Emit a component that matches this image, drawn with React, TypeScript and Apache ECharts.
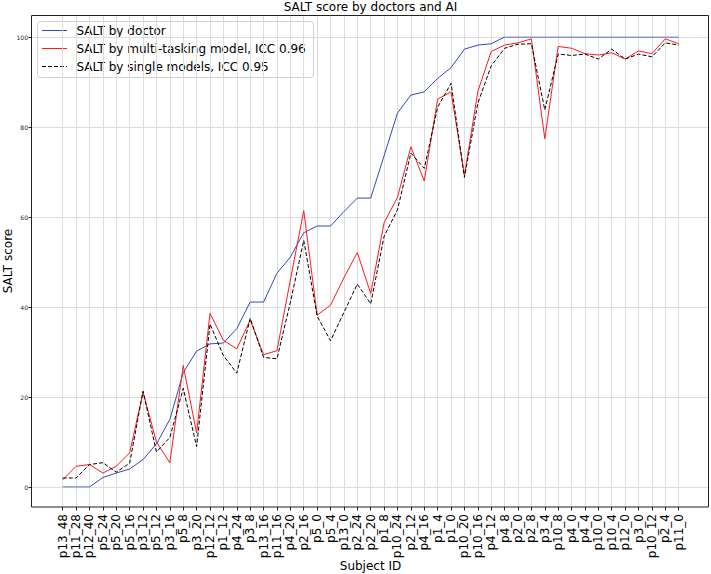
import React, { useEffect, useRef } from "react";
import * as echarts from "echarts";

const subjects = [
  "p13_48", "p11_28", "p12_40", "p5_24", "p5_20", "p5_16", "p3_12", "p5_12", "p3_16", "p5_8",
  "p3_20", "p12_12", "p1_12", "p4_24", "p3_8", "p13_16", "p11_16", "p4_20", "p2_16", "p5_0",
  "p5_4", "p13_0", "p2_24", "p2_20", "p1_8", "p10_24", "p2_12", "p4_16", "p1_4", "p1_0",
  "p10_20", "p10_16", "p4_12", "p4_8", "p2_0", "p2_8", "p3_4", "p10_8", "p4_0", "p4_4",
  "p10_0", "p10_4", "p12_0", "p3_0", "p10_12", "p2_4", "p11_0",
];

const doctorSalt = [
  0, 0, 0, 2.1, 3.1, 4.0, 6.1, 9.6, 15.0, 25.4,
  30.2, 31.8, 32.0, 35.2, 41.1, 41.1, 47.5, 51.1, 56.5, 58.0,
  58.0, 61.2, 64.2, 64.2, 73.6, 83.1, 87.1, 87.8, 90.8, 93.2,
  97.3, 98.2, 98.5, 100, 100, 100, 100, 100, 100, 100,
  100, 100, 100, 100, 100, 100, 100,
];

const multiTaskSalt = [
  1.6, 4.6, 5.0, 3.1, 4.6, 7.6, 21.1, 10.0, 5.4, 27.0,
  12.0, 38.6, 32.6, 30.7, 37.1, 29.4, 30.3, 46.0, 61.4, 38.2,
  40.4, 46.5, 52.1, 43.0, 58.7, 64.4, 75.6, 68.0, 86.2, 87.8,
  69.2, 87.9, 96.8, 98.2, 98.7, 99.6, 77.4, 97.9, 97.5, 96.3,
  96.0, 96.5, 95.1, 96.9, 96.3, 99.6, 98.5,
];

const singleModelSalt = [
  2.0, 2.0, 5.0, 5.4, 3.3, 5.3, 21.3, 7.8, 11.0, 21.9,
  9.0, 36.2, 29.2, 25.3, 37.5, 28.8, 28.5, 41.0, 54.8, 38.0,
  32.5, 38.8, 45.1, 40.7, 55.7, 61.6, 74.2, 70.8, 84.4, 89.7,
  68.8, 85.3, 93.6, 97.5, 98.4, 98.5, 83.8, 96.2, 95.9, 96.2,
  95.1, 97.3, 95.1, 96.2, 95.6, 98.7, 98.2,
];

const yMin = 0;
const yMax = 100;
const yStep = 20;

const FONT = "DejaVu Sans";
const GRID_COLOR = "#dddddd";
const BLUE = "#3548b8";
const RED = "#ff1a1a";
const BLACK = "#000000";

export default function App() {
  const ref = useRef<HTMLDivElement>(null);

  useEffect(() => {
    if (!ref.current) return;
    const chart = echarts.init(ref.current, null, { renderer: "svg" });

    const option: any = {
      animation: false,
      backgroundColor: "#ffffff",
      textStyle: { fontFamily: FONT },
      grid: [
        { left: 62.7, right: 32.3, top: 15, bottom: 67 },
        { left: 32, right: 3, top: 37, bottom: 87 },
        { left: 62.7, right: 32.3, top: 37, bottom: 87 },
      ],
      xAxis: [
        {
          gridIndex: 0,
          type: "category",
          data: subjects,
          boundaryGap: false,
          axisLine: { show: false },
          axisTick: { show: true, length: 3.5, lineStyle: { color: "#222", width: 1 } },
          axisLabel: {
            rotate: 90,
            interval: 0,
            fontSize: 12,
            color: "#000",
            margin: 7,
            fontFamily: FONT,
          },
          splitLine: { show: true, interval: 0, lineStyle: { color: GRID_COLOR, width: 1 } },
        },
        { gridIndex: 1, type: "value", min: 0, max: 1, show: false },
        { gridIndex: 2, type: "category", data: subjects, boundaryGap: false, show: false },
      ],
      yAxis: [
        { gridIndex: 0, type: "value", min: 0, max: 1, show: false },
        {
          gridIndex: 1,
          type: "value",
          min: yMin,
          max: yMax,
          interval: yStep,
          axisLine: { show: false },
          axisTick: { show: true, length: 3.5, lineStyle: { color: "#222", width: 1 } },
          axisLabel: { fontSize: 6, color: "#222", margin: 4, fontFamily: FONT },
          splitLine: { show: true, lineStyle: { color: GRID_COLOR, width: 1 } },
        },
        { gridIndex: 2, type: "value", min: yMin, max: yMax, show: false },
      ],
      series: [
        {
          name: "SALT by doctor",
          type: "line",
          xAxisIndex: 2,
          yAxisIndex: 2,
          data: doctorSalt,
          showSymbol: false,
          symbol: "none",
          lineStyle: { color: BLUE, width: 1 },
        },
        {
          name: "SALT by multi-tasking model, ICC 0.96",
          type: "line",
          xAxisIndex: 2,
          yAxisIndex: 2,
          data: multiTaskSalt,
          showSymbol: false,
          symbol: "none",
          lineStyle: { color: RED, width: 1 },
        },
        {
          name: "SALT by single models, ICC 0.95",
          type: "line",
          xAxisIndex: 2,
          yAxisIndex: 2,
          data: singleModelSalt,
          showSymbol: false,
          symbol: "none",
          lineStyle: { color: BLACK, width: 1, type: [4, 2] },
        },
      ],
      graphic: [
        {
          type: "rect",
          z: 100,
          shape: { x: 31.5, y: 15.5, width: 677, height: 491.5 },
          style: { fill: "none", stroke: "#222", lineWidth: 1 },
        },
        {
          type: "text",
          z: 100,
          x: 370.5,
          y: 7,
          style: {
            text: "SALT score by doctors and AI",
            fontSize: 12,
            fontFamily: FONT,
            fill: "#000",
            textAlign: "center",
            textVerticalAlign: "middle",
          },
        },
        {
          type: "text",
          z: 100,
          x: 370.5,
          y: 566,
          style: {
            text: "Subject ID",
            fontSize: 12,
            fontFamily: FONT,
            fill: "#000",
            textAlign: "center",
            textVerticalAlign: "middle",
          },
        },
        {
          type: "text",
          z: 100,
          x: 8,
          y: 261,
          rotation: Math.PI / 2,
          style: {
            text: "SALT score",
            fontSize: 12,
            fontFamily: FONT,
            fill: "#000",
            textAlign: "center",
            textVerticalAlign: "middle",
          },
        },
        {
          type: "group",
          z: 110,
          children: [
            {
              type: "rect",
              shape: { x: 37.5, y: 21.5, width: 276, height: 56, r: 3 },
              style: { fill: "rgba(255,255,255,0.85)", stroke: "#d0d0d0", lineWidth: 1 },
            },
            {
              type: "line",
              shape: { x1: 42, y1: 30.5, x2: 67, y2: 30.5 },
              style: { stroke: BLUE, lineWidth: 1 },
            },
            {
              type: "line",
              shape: { x1: 42, y1: 48.5, x2: 67, y2: 48.5 },
              style: { stroke: RED, lineWidth: 1 },
            },
            {
              type: "line",
              shape: { x1: 42, y1: 66.5, x2: 67, y2: 66.5 },
              style: { stroke: BLACK, lineWidth: 1, lineDash: [4, 2] },
            },
            {
              type: "text",
              x: 76.5,
              y: 31,
              style: {
                text: "SALT by doctor",
                fontSize: 12,
                fontFamily: FONT,
                fill: "#000",
                textAlign: "left",
                textVerticalAlign: "middle",
              },
            },
            {
              type: "text",
              x: 76.5,
              y: 49,
              style: {
                text: "SALT by multi-tasking model, ICC 0.96",
                fontSize: 12,
                fontFamily: FONT,
                fill: "#000",
                textAlign: "left",
                textVerticalAlign: "middle",
              },
            },
            {
              type: "text",
              x: 76.5,
              y: 66.5,
              style: {
                text: "SALT by single models, ICC 0.95",
                fontSize: 12,
                fontFamily: FONT,
                fill: "#000",
                textAlign: "left",
                textVerticalAlign: "middle",
              },
            },
          ],
        },
      ],
    };

    chart.setOption(option);
    return () => chart.dispose();
  }, []);

  return (
    <div
      ref={ref}
      style={{ position: "fixed", left: 0, top: 0, width: 711, height: 574 }}
    />
  );
}
